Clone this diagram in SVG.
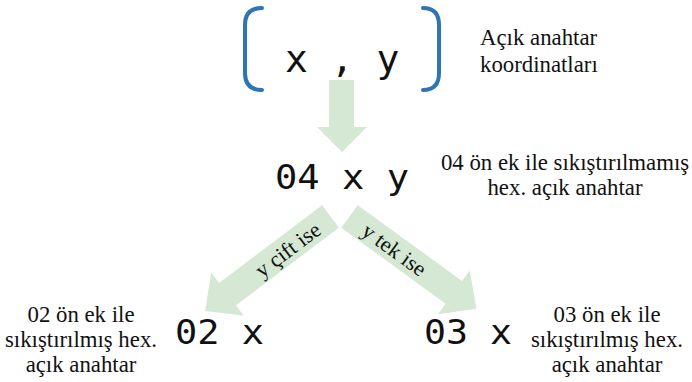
<svg xmlns="http://www.w3.org/2000/svg" width="692" height="382" viewBox="0 0 692 382">
  <style>
    .mono { font-family: "DejaVu Sans Mono", "Liberation Mono", monospace; fill: #111; }
    .note { font-family: "Liberation Serif", "Times New Roman", serif; font-size: 22.8px; fill: #111; }
    .lbl { font-family: "Liberation Serif", "Times New Roman", serif; font-size: 22px; fill: #111; }
    .arrow { fill: #d5e8d4; }
    .bracket { fill: none; stroke: #2e75b6; stroke-width: 4; stroke-linecap: round; }
  </style>
  <defs>
    <polygon id="diag" points="0,-14 129,-14 129,-27 157,0 129,27 129,14 0,14"/>
  </defs>

  <!-- public key coordinates -->
  <g id="coords">
    <path class="bracket" d="M262,8 Q245,8 245,25 L245,73 Q245,90 262,90"/>
    <path class="bracket" d="M423,8 Q439,8 439,25 L439,73 Q439,90 423,90"/>
    <text class="mono" x="285" y="72" font-size="38">x , y</text>
    <text class="note" x="480" y="45">Açık anahtar</text>
    <text class="note" x="480" y="72">koordinatları</text>
  </g>

  <!-- uncompressed key -->
  <g id="uncompressed">
    <text class="mono" x="275" y="189" font-size="34" textLength="134" lengthAdjust="spacingAndGlyphs">04 x y</text>
    <text class="note" x="565" y="170" text-anchor="middle">04 ön ek ile sıkıştırılmamış</text>
    <text class="note" x="565" y="195" text-anchor="middle">hex. açık anahtar</text>
  </g>

  <!-- compressed key, even y -->
  <g id="even">
    <text class="mono" x="175" y="344" font-size="34" textLength="89" lengthAdjust="spacingAndGlyphs">02 x</text>
    <text class="note" x="81" y="322" text-anchor="middle">02 ön ek ile</text>
    <text class="note" x="81" y="347" text-anchor="middle">sıkıştırılmış hex.</text>
    <text class="note" x="81" y="372" text-anchor="middle">açık anahtar</text>
  </g>

  <!-- compressed key, odd y -->
  <g id="odd">
    <text class="mono" x="424" y="344" font-size="34" textLength="88" lengthAdjust="spacingAndGlyphs">03 x</text>
    <text class="note" x="607" y="322" text-anchor="middle">03 ön ek ile</text>
    <text class="note" x="607" y="347" text-anchor="middle">sıkıştırılmış hex.</text>
    <text class="note" x="607" y="372" text-anchor="middle">açık anahtar</text>
  </g>

  <!-- connectors -->
  <g id="connectors">
    <polygon class="arrow" points="329,80 354,80 354,127 367,127 342,152 317,127 329,127"/>
    <use href="#diag" class="arrow" transform="translate(330.5,216.5) rotate(143)"/>
    <use href="#diag" class="arrow" transform="translate(349.5,216.5) rotate(36)"/>
    <text class="lbl" transform="translate(288,250) rotate(-37)" y="7" text-anchor="middle">y çift ise</text>
    <text class="lbl" transform="translate(394,250) rotate(36)" y="7" text-anchor="middle">y tek ise</text>
  </g>
</svg>
